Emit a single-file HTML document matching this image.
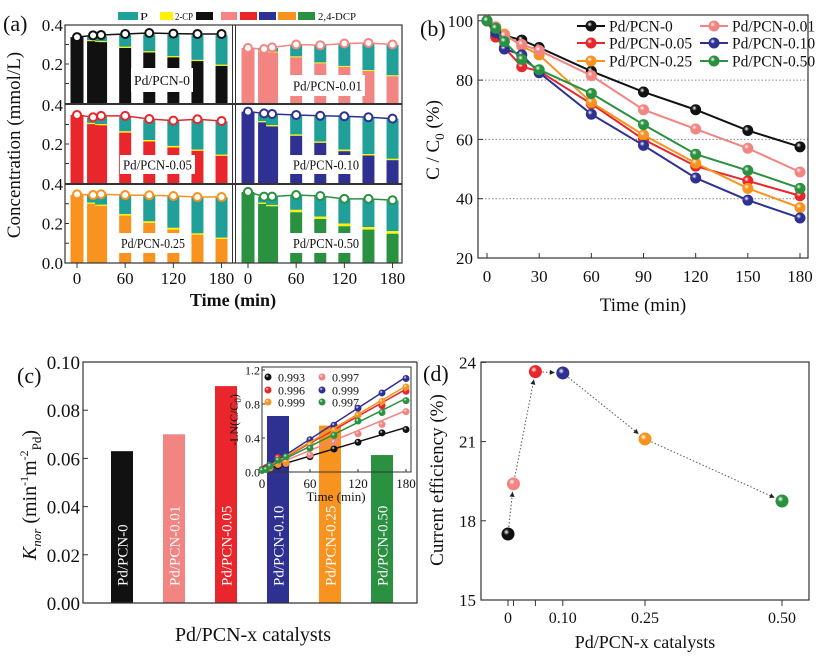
<!DOCTYPE html>
<html><head><meta charset="utf-8"><style>
html,body{margin:0;padding:0;background:#fff;}
svg, svg text{font-family:"Liberation Serif","Times New Roman",Times,serif;}
</style></head><body>
<svg id="fig" width="823" height="659" viewBox="0 0 823 659" xmlns="http://www.w3.org/2000/svg">
<defs id="defs"></defs>
<g id="pa"></g>
<g id="pb"></g>
<g id="pc"></g>
<g id="pd"></g>
</svg>
<script>
// ---------- shared data ----------
const seriesNames = ["Pd/PCN-0","Pd/PCN-0.01","Pd/PCN-0.05","Pd/PCN-0.10","Pd/PCN-0.25","Pd/PCN-0.50"];
const seriesColors = ["#111111","#f28482","#e8262b","#2e3192","#f7931e","#2a9140"];
// panel a
const aTimes = [0,20,30,60,90,120,150,180];
const aDcp = [
 [0.338,0.317,0.312,0.282,0.259,0.234,0.215,0.190],
 [0.282,0.264,0.259,0.234,0.203,0.185,0.164,0.137],
 [0.349,0.302,0.296,0.258,0.213,0.182,0.165,0.139],
 [0.366,0.311,0.290,0.242,0.206,0.163,0.141,0.117],
 [0.345,0.300,0.289,0.240,0.203,0.169,0.143,0.122],
 [0.360,0.299,0.287,0.257,0.223,0.186,0.169,0.148]];
const aCp = [
 [0,0.005,0.005,0.006,0.006,0.006,0.006,0.006],
 [0,0.005,0.005,0.005,0.005,0.005,0.005,0.005],
 [0,0.006,0.006,0.007,0.007,0.008,0.006,0.006],
 [0,0.006,0.007,0.007,0.007,0.008,0.007,0.007],
 [0,0.006,0.006,0.008,0.008,0.009,0.007,0.006],
 [0,0.006,0.007,0.012,0.012,0.014,0.013,0.013]];
const aTotal = [
 [0.338,0.340,0.342,0.350,0.352,0.350,0.348,0.348],
 [0.282,0.277,0.282,0.298,0.295,0.303,0.306,0.298],
 [0.349,0.335,0.340,0.340,0.326,0.318,0.325,0.316],
 [0.366,0.355,0.352,0.347,0.343,0.340,0.335,0.328],
 [0.345,0.342,0.346,0.344,0.342,0.338,0.333,0.333],
 [0.360,0.334,0.334,0.342,0.337,0.323,0.323,0.316]];
const aCircles = [
 [0.338,0.347,0.349,0.354,0.359,0.356,0.354,0.354],
 [0.282,0.277,0.285,0.300,0.296,0.305,0.308,0.300],
 [0.349,0.337,0.344,0.344,0.328,0.320,0.327,0.318],
 [0.366,0.357,0.354,0.349,0.345,0.342,0.337,0.330],
 [0.348,0.344,0.348,0.344,0.343,0.339,0.334,0.334],
 [0.360,0.336,0.336,0.344,0.339,0.325,0.325,0.318]];
// panel b
const bTimes = [0,5,10,20,30,60,90,120,150,180];
const bValues = [
 [100,95,95,93.5,91,83,76,70,63,57.5],
 [100,98,95,92,90,81.5,70,63.5,57,49],
 [100,94.5,91,84.5,83,72,60,51,46,41],
 [100,96,90.5,88.5,82.5,68.5,58,47,39.5,33.5],
 [100,97,95.5,91.5,88.5,72.5,61.5,52,43.5,37],
 [100,97.5,93,87,83.5,75.5,65,55,49.5,43.5]];
const bOrder = [0,2,4,1,3,5];
const bYTicks = [20,40,60,80,100];
const bXTicks = [0,30,60,90,120,150,180];
// panel c
const cValues = [0.063,0.070,0.090,0.0776,0.0736,0.0614];
const cYTicks = [0.00,0.02,0.04,0.06,0.08,0.10];
const insetTimes = [0,5,10,20,30,60,90,120,150,180];
const insetValues = [
 [0.02,0.05,0.05,0.07,0.09,0.18,0.27,0.35,0.46,0.50],
 [0.02,0.04,0.05,0.09,0.10,0.20,0.35,0.45,0.56,0.71],
 [0.03,0.05,0.09,0.17,0.18,0.33,0.51,0.67,0.78,0.95],
 [0.02,0.04,0.09,0.12,0.19,0.38,0.55,0.75,0.93,1.10],
 [0.02,0.03,0.05,0.09,0.12,0.32,0.49,0.67,0.83,1.00],
 [0.02,0.03,0.07,0.14,0.18,0.28,0.43,0.60,0.70,0.84]];
const insetSlopes = [0.0028,0.0039,0.0053,0.0061,0.0055,0.0047];
const insetR2 = ["0.993","0.997","0.996","0.999","0.999","0.997"];
const insetXTicks = [0,60,120,180];
const insetYTicks = [0.0,0.4,0.8,1.2];
// panel d
const dX = [0,0.01,0.05,0.10,0.25,0.50];
const dY = [17.5,19.4,23.65,23.6,21.1,18.75];
const dYTicks = [15,18,21,24];
const dXTickLabels = ["0","0.10","0.25","0.50"];
const dXTickLabelVals = [0,0.10,0.25,0.50];

// ---------- helpers ----------
const NS="http://www.w3.org/2000/svg";
const FF='"Liberation Serif","Times New Roman",Times,serif';
function mk(tag, parent, attrs){const e=document.createElementNS(NS,tag);for(const k in attrs)e.setAttribute(k,attrs[k]);parent.appendChild(e);return e;}
const defs=document.getElementById('defs');
seriesColors.forEach((c,i)=>{
  const g=mk('radialGradient',defs,{id:'sph'+i,cx:'0.38',cy:'0.35',r:'0.65'});
  mk('stop',g,{offset:'0','stop-color':'#ffffff'});
  mk('stop',g,{offset:'0.35','stop-color':c});
  mk('stop',g,{offset:'1','stop-color':c});
});
function txt(parent,x,y,s,size,anchor,extra){const t=mk('text',parent,Object.assign({x:x,y:y,'font-size':size,'font-family':FF,'text-anchor':anchor||'start',fill:'#111'},extra||{}));t.textContent=s;return t;}

// ---------- panel a ----------
const pa=document.getElementById('pa');
const aRowTop=[25,105,184], aRowBot=[103,183,263];
const aColX0=[77,248], aPerMin=0.803;
function ax(col,t){return aColX0[col]+t*aPerMin;}
function ay(row,v){return aRowBot[row]-v*(aRowBot[row]-aRowTop[row])/0.4;}
const P_COL="#21a09a", CP_COL="#fff200";
const aLabelBoxes=[[131,68,62,24],[290,75,75,21],[120,155,75,19],[290,155,72,19],[118,233,70,20],[290,233,72,20]];
for(let s=0;s<6;s++){
  const row=Math.floor(s/2), col=s%2;
  const g=mk('g',pa,{});
  
  
  for(let i=0;i<aTimes.length;i++){
    const x=ax(col,aTimes[i]); const w=i===0?13:12;
    const yb=ay(row,0), yd=ay(row,aDcp[s][i]), yc=ay(row,aDcp[s][i]+aCp[s][i]), yt=ay(row,Math.max(aTotal[s][i],aDcp[s][i]+aCp[s][i]));
    const r1=mk('rect',g,{x:x-w/2,y:yt,width:w,height:yc-yt,fill:P_COL});
    
    
    const r2=mk('rect',g,{x:x-w/2,y:yc,width:w,height:Math.max(0,yd-yc),fill:CP_COL});
    
    
    const r3=mk('rect',g,{x:x-w/2,y:yd,width:w,height:yb-yd,fill:seriesColors[s]});
    
    
  }
  const b=aLabelBoxes[s];
  const lb=mk('rect',g,{x:b[0],y:b[1],width:b[2],height:b[3],fill:'#fff'});
  
  
  const lt=txt(g,b[0]+b[2]/2,b[1]+b[3]/2+5,seriesNames[s],14,'middle',{textLength:b[2]-6,lengthAdjust:'spacingAndGlyphs'});
  
  
  const pts=aTimes.map((t,i)=>ax(col,t)+','+ay(row,aCircles[s][i])).join(' ');
  const pl=mk('polyline',g,{points:pts,fill:'none',stroke:seriesColors[s],'stroke-width':1.5});
  
  
  aTimes.forEach((t,i)=>{
    const c=mk('circle',g,{cx:ax(col,t),cy:ay(row,aCircles[s][i]),r:4,fill:'#fff',stroke:seriesColors[s],'stroke-width':2});
    
    
  });
}
// frames
mk('rect',pa,{x:65,y:25,width:337,height:238,fill:'none',stroke:'#333','stroke-width':1.2});
mk('line',pa,{x1:65,y1:104,x2:402,y2:104,stroke:'#333','stroke-width':2});
mk('line',pa,{x1:65,y1:184,x2:402,y2:184,stroke:'#333','stroke-width':2});
mk('line',pa,{x1:232.5,y1:25,x2:232.5,y2:263,stroke:'#333','stroke-width':1});
mk('line',pa,{x1:235.5,y1:25,x2:235.5,y2:263,stroke:'#333','stroke-width':1});
for(let row=0;row<3;row++){
  [0.4,0.2].forEach(v=>{const t=txt(pa,63,ay(row,v)+6,v.toFixed(1),17,'end');});
  [0.1,0.2,0.3].forEach(v=>mk('line',pa,{x1:65,y1:ay(row,v),x2:69,y2:ay(row,v),stroke:'#333'}));
}
const a00=txt(pa,63,269,"0.0",17,'end');


[0,1].forEach(col=>{[0,60,120,180].forEach(t=>{
  mk('line',pa,{x1:ax(col,t),y1:263,x2:ax(col,t),y2:268,stroke:'#333'});
  const l=txt(pa,ax(col,t),284,String(t),17,'middle');
  
  
});});
const aXT=txt(pa,233,306,"Time (min)",18,'middle',{'font-weight':'bold'});


const aYT=txt(pa,0,0,"Concentration (mmol/L)",19,'middle',{transform:'translate(20,145) rotate(-90)'});


const aLab=txt(pa,3,31,"(a)",22,'start');


// legend a
const aLegBoxes=[[118,20,P_COL,"P",140,8],[160,13,CP_COL,"2-CP",175,18],[196,17,seriesColors[0],null],[221,16,seriesColors[1],null],[240,17,seriesColors[2],null],[259,17,seriesColors[3],null],[278,18,seriesColors[4],null],[298,17,seriesColors[5],"2,4-DCP",318,38]];
aLegBoxes.forEach(b=>{
  const r=mk('rect',pa,{x:b[0],y:12,width:b[1],height:8,fill:b[2]});
  
  
});
aLegBoxes.forEach(b=>{
  if(b[3]){const t=txt(pa,b[4],20,b[3],11,'start',{textLength:b[5],lengthAdjust:'spacingAndGlyphs'});}
});

// ---------- panel b ----------
const pb=document.getElementById('pb');
function bx(t){return 487+t*313/180;}
function by(v){return 258-(v-20)*2.965;}
[40,60,80].forEach(v=>{const l=mk('line',pb,{x1:478,y1:by(v),x2:808,y2:by(v),stroke:'#888','stroke-dasharray':'1.5,2','stroke-width':1});});
mk('rect',pb,{x:478,y:15,width:330,height:243,fill:'none',stroke:'#333','stroke-width':1.2});
bYTicks.forEach(v=>{mk('line',pb,{x1:478,y1:by(v),x2:483,y2:by(v),stroke:'#333'});const t=txt(pb,473,by(v)+6,String(v),17,'end');});
bXTicks.forEach(v=>{mk('line',pb,{x1:bx(v),y1:258,x2:bx(v),y2:253,stroke:'#333'});const t=txt(pb,bx(v),282,String(v),17,'middle');});
bOrder.forEach(s=>{
  const g=mk('g',pb,{});
  
  
  const pl=mk('polyline',g,{points:bTimes.map((t,i)=>bx(t)+','+by(bValues[s][i])).join(' '),fill:'none',stroke:seriesColors[s],'stroke-width':2});
  
  
  bTimes.forEach((t,i)=>{const c=mk('circle',g,{cx:bx(t),cy:by(bValues[s][i]),r:5.5,fill:'url(#sph'+s+')'});});
});
const bLegPos=[[577,26],[700,26],[577,43],[700,43],[577,61],[700,61]];
[0,1,2,3,4,5].forEach((s,k)=>{
  const p=bLegPos[k];
  mk('line',pb,{x1:p[0],y1:p[1],x2:p[0]+28,y2:p[1],stroke:seriesColors[s],'stroke-width':2});
  const c=mk('circle',pb,{cx:p[0]+14,cy:p[1],r:5.5,fill:'url(#sph'+s+')'});
  
  
  const t=txt(pb,p[0]+32,p[1]+5.5,seriesNames[s],15.5,'start');
  
  
});
const bXT=txt(pb,643,311,"Time (min)",19,'middle');


const bYT=mk('text',pb,{transform:'translate(439,140) rotate(-90)','font-size':19,'font-family':FF,'text-anchor':'middle',fill:'#111'});
bYT.innerHTML='C / C<tspan font-size="13" dy="5">0</tspan><tspan dy="-5"> (%)</tspan>';


const bLab=txt(pb,420,36,"(b)",22,'start');



// ---------- panel c ----------
const pc=document.getElementById('pc');
function cy(v){return 603-v*2410;}
const cBarX=[122,174,226,278,330,382];
cValues.forEach((v,i)=>{
  const r=mk('rect',pc,{x:cBarX[i]-11,y:cy(v),width:22,height:603-cy(v),fill:seriesColors[i]});
  
  
  const t=txt(pc,0,0,seriesNames[i],15,'start',{fill:'#fff',transform:'translate('+(cBarX[i]+5.5)+',586) rotate(-90)'});
  
  
});
mk('polyline',pc,{points:'417,362 83,362 83,603 417,603 417,362',fill:'none',stroke:'#333','stroke-width':1.2});
cYTicks.forEach(v=>{mk('line',pc,{x1:83,y1:cy(v),x2:88,y2:cy(v),stroke:'#333'});const t=txt(pc,80,cy(v)+7,v.toFixed(2),19,'end');});
const cYT=mk('text',pc,{transform:'translate(36,495) rotate(-90)','font-size':20,'font-family':FF,'text-anchor':'middle',fill:'#111'});
cYT.innerHTML='<tspan font-style="italic">K</tspan><tspan font-style="italic" font-size="13" dy="5">nor</tspan><tspan dy="-5"> (min</tspan><tspan font-size="12" dy="-8">-1</tspan><tspan dy="8">m</tspan><tspan font-size="12" dy="-8">-2</tspan><tspan font-size="13" dy="13">Pd</tspan><tspan dy="-5">)</tspan>';


const cXT=txt(pc,253,641,"Pd/PCN-x catalysts",20,'middle');


const cLab=txt(pc,17,383,"(c)",22,'start');


// inset
function ix(t){return 262+t*(406-262)/180;}
function iy(v){return 472-v*(472-370)/1.2;}
const ins=mk('g',pc,{});


mk('rect',ins,{x:262,y:367,width:149,height:105,fill:'none',stroke:'#333','stroke-width':1});
insetYTicks.forEach(v=>{mk('line',ins,{x1:262,y1:iy(v),x2:265,y2:iy(v),stroke:'#333'});const t=txt(ins,260,iy(v)+4.5,v.toFixed(1),12,'end');});
insetXTicks.forEach(v=>{mk('line',ins,{x1:ix(v),y1:472,x2:ix(v),y2:469,stroke:'#333'});const t=txt(ins,ix(v),488,String(v),13,'middle');});
const iXT=txt(ins,336,501,"Time (min)",13,'middle');


const iYT=mk('text',ins,{transform:'translate(238,420) rotate(-90)','font-size':12,'font-family':FF,'text-anchor':'middle',fill:'#111'});
iYT.innerHTML='-LN(C/C<tspan font-size="9" dy="3">0</tspan><tspan dy="-3">)</tspan>';


[0,1,2,3,4,5].forEach(s=>{
  const l=mk('line',ins,{x1:ix(0),y1:iy(0.02),x2:ix(180),y2:iy(0.02+insetSlopes[s]*180),stroke:seriesColors[s],'stroke-width':1.5});
  
  
  insetTimes.forEach((t,i)=>{const c=mk('circle',ins,{cx:ix(t),cy:iy(insetValues[s][i]),r:3.5,fill:'url(#sph'+s+')'});});
});
const iLegPos=[[268,377],[322,377],[268,390],[322,390],[268,402],[322,402]];
[0,1,2,3,4,5].forEach(s=>{
  const p=iLegPos[s];
  const c=mk('circle',ins,{cx:p[0],cy:p[1],r:3.5,fill:'url(#sph'+s+')'});
  
  
  const t=txt(ins,p[0]+10,p[1]+4.5,insetR2[s],12,'start');
  
  
});

// ---------- panel d ----------
const pd=document.getElementById('pd');
function dx(v){return 508+v*548;}
function dy(v){return 600-(v-15)*26.4;}
mk('rect',pd,{x:481,y:362,width:328,height:238,fill:'none',stroke:'#333','stroke-width':1.2});
dYTicks.forEach(v=>{mk('line',pd,{x1:481,y1:dy(v),x2:486,y2:dy(v),stroke:'#333'});const t=txt(pd,476,dy(v)+6,String(v),17,'end');});
dX.forEach(v=>mk('line',pd,{x1:dx(v),y1:600,x2:dx(v),y2:606,stroke:'#333'}));
dXTickLabels.forEach((s,i)=>{const t=txt(pd,dx(dXTickLabelVals[i]),623,s,16,'middle');});
for(let i=0;i<dX.length-1;i++){
  const x1=dx(dX[i]),y1=dy(dY[i]),x2=dx(dX[i+1]),y2=dy(dY[i+1]);
  const L=Math.hypot(x2-x1,y2-y1),ux=(x2-x1)/L,uy=(y2-y1)/L;
  const sx=x1+ux*7,sy=y1+uy*7,ex=x2-ux*8,ey=y2-uy*8;
  const l=mk('line',pd,{x1:sx,y1:sy,x2:ex,y2:ey,stroke:'#555','stroke-dasharray':'1.5,2','stroke-width':1});
  
  
  const a=mk('polygon',pd,{points:ex+','+ey+' '+(ex-ux*5-uy*2.5)+','+(ey-uy*5+ux*2.5)+' '+(ex-ux*5+uy*2.5)+','+(ey-uy*5-ux*2.5),fill:'#222'});
  
  
}
dX.forEach((v,i)=>{const c=mk('circle',pd,{cx:dx(v),cy:dy(dY[i]),r:6.5,fill:'url(#sph'+i+')'});});
const dYT=txt(pd,0,0,"Current efficiency (%)",19,'middle',{transform:'translate(443,480) rotate(-90)'});


const dXT=txt(pd,645,648,"Pd/PCN-x catalysts",18,'middle');


const dLab=txt(pd,423,381,"(d)",22,'start');


</script>
</body></html>
